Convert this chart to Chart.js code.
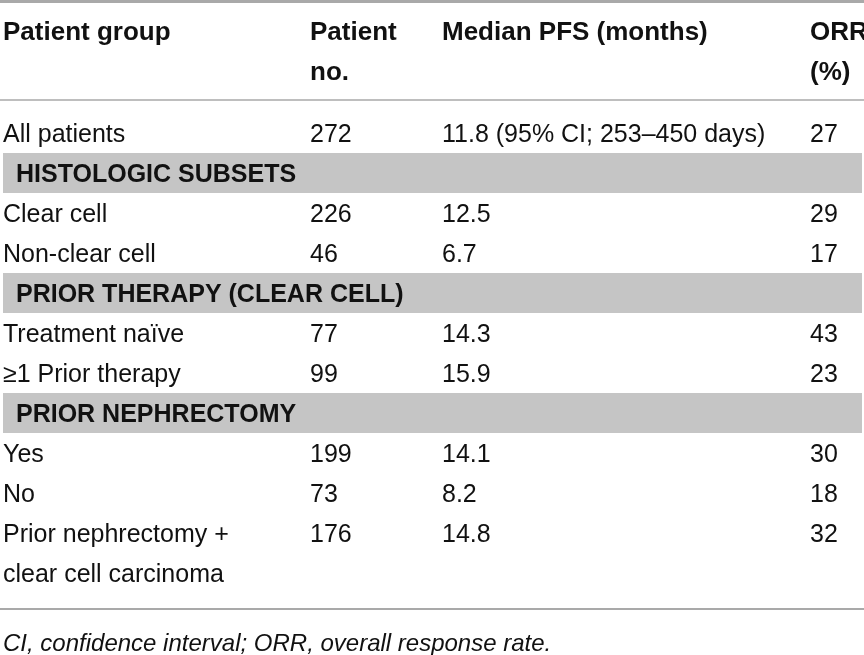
<!DOCTYPE html>
<html>
<head>
<meta charset="utf-8">
<script src="https://cdn.jsdelivr.net/npm/chart.js@4/dist/chart.umd.min.js"></script>
<style>
  html, body { margin: 0; padding: 0; background: #fff; }
  #wrap { width: 864px; height: 655px; }
</style>
</head>
<body>
<div id="wrap"><canvas id="table" width="864" height="655"></canvas></div>
<script>
// ── Table data ──
const headers = ['Patient group', 'Patient\nno.', 'Median PFS (months)', 'ORR\n(%)'];
const sections = ['HISTOLOGIC SUBSETS', 'PRIOR THERAPY (CLEAR CELL)', 'PRIOR NEPHRECTOMY'];
const rowLabels = ['All patients', 'Clear cell', 'Non-clear cell', 'Treatment naïve',
  '≥1 Prior therapy', 'Yes', 'No', 'Prior nephrectomy +\nclear cell carcinoma'];
const rowSection = [null, 0, 0, 1, 1, 2, 2, 2];
const patientNo = [272, 226, 46, 77, 99, 199, 73, 176];
const medianPFS = [11.8, 12.5, 6.7, 14.3, 15.9, 14.1, 8.2, 14.8];
const pfsNote = ['(95% CI; 253–450 days)', '', '', '', '', '', '', ''];
const orr = [27, 29, 17, 43, 23, 30, 18, 32];
const footnote = 'CI, confidence interval; ORR, overall response rate.';

// ── Layout ──
const COL_X = [3, 310, 442, 810];
const SECTION_X = 16;
const BAND_X = [3, 862];
const TEXT = '#111111';
const BAND = '#c5c5c5';
const RULE = '#a9a9a9';
const FONT = '"Liberation Sans", Arial, sans-serif';
const BASE_OFFSET = 9; // row centre -> baseline

// ── Build cells on a row scale ──
const headCells = [], groupCells = [], noCells = [], pfsCells = [], orrCells = [], sectionCells = [];
const bandRows = [];
headers.forEach((h, c) => {
  h.split('\n').forEach((line, k) => headCells.push({ x: COL_X[c], y: -2.55 + k, text: line }));
});

let r = 0;
let lastSection = null;
rowLabels.forEach((label, i) => {
  if (rowSection[i] !== null && rowSection[i] !== lastSection) {
    sectionCells.push({ x: SECTION_X, y: r, text: sections[rowSection[i]] });
    bandRows.push(r);
    lastSection = rowSection[i];
    r++;
  }
  const lines = label.split('\n');
  lines.forEach((line, k) => groupCells.push({ x: COL_X[0], y: r + k, text: line }));
  noCells.push({ x: COL_X[1], y: r, text: String(patientNo[i]) });
  pfsCells.push({ x: COL_X[2], y: r, text: medianPFS[i].toFixed(1) + (pfsNote[i] ? ' ' + pfsNote[i] : '') });
  orrCells.push({ x: COL_X[3], y: r, text: String(orr[i]) });
  r += lines.length;
});
const footCells = [{ x: COL_X[0], y: r + 0.725, text: footnote }];
const rules = [
  { y: -3.29, w: 3 },
  { y: -0.825, w: 1.5 },
  { y: r - 0.1, w: 2 }
];

function cellSet(data, font) {
  return { data, font, pointRadius: 0, pointHoverRadius: 0, showLine: false };
}

// ── Draw bands, rules and cell texts ──
const tablePlugin = {
  id: 'tablePlugin',
  beforeDatasetsDraw(chart) {
    const { ctx, scales: { x, y } } = chart;
    ctx.save();
    ctx.fillStyle = BAND;
    bandRows.forEach(br => {
      const top = y.getPixelForValue(br - 0.5);
      const bot = y.getPixelForValue(br + 0.5);
      const left = x.getPixelForValue(BAND_X[0]);
      ctx.fillRect(left, top, x.getPixelForValue(BAND_X[1]) - left, bot - top);
    });
    ctx.strokeStyle = RULE;
    rules.forEach(rl => {
      const py = y.getPixelForValue(rl.y);
      ctx.lineWidth = rl.w;
      ctx.beginPath();
      ctx.moveTo(x.left, py);
      ctx.lineTo(x.right, py);
      ctx.stroke();
    });
    ctx.restore();
  },
  afterDatasetsDraw(chart) {
    const ctx = chart.ctx;
    ctx.save();
    ctx.fillStyle = TEXT;
    ctx.textAlign = 'left';
    ctx.textBaseline = 'alphabetic';
    chart.data.datasets.forEach((ds, i) => {
      const meta = chart.getDatasetMeta(i);
      ctx.font = ds.font;
      meta.data.forEach((pt, j) => {
        ctx.fillText(ds.data[j].text, pt.x, pt.y + BASE_OFFSET);
      });
    });
    ctx.restore();
  }
};

new Chart(document.getElementById('table'), {
  type: 'scatter',
  data: {
    datasets: [
      cellSet(headCells, 'bold 26px ' + FONT),
      cellSet(sectionCells, 'bold 25px ' + FONT),
      cellSet(groupCells, '25px ' + FONT),
      cellSet(noCells, '25px ' + FONT),
      cellSet(pfsCells, '25px ' + FONT),
      cellSet(orrCells, '25px ' + FONT),
      cellSet(footCells, 'italic 24px ' + FONT)
    ]
  },
  options: {
    responsive: false,
    animation: false,
    layout: { padding: 0 },
    plugins: { legend: { display: false }, tooltip: { enabled: false } },
    events: [],
    scales: {
      x: { type: 'linear', min: 0, max: 864, display: false },
      y: { type: 'linear', min: -3.325, max: 13.05, reverse: true, display: false }
    }
  },
  plugins: [tablePlugin]
});
</script>
</body>
</html>
